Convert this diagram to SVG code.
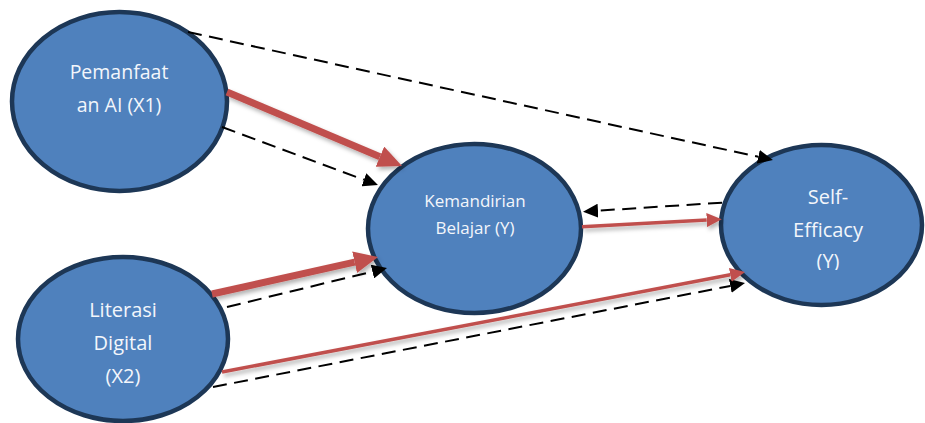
<svg xmlns="http://www.w3.org/2000/svg" width="925" height="423" viewBox="0 0 925 423">
<style>
.node{fill:#4f81bd;stroke:#1d3756;stroke-width:4.5}
.lbl{font-family:"Open Sans","Noto Sans","Liberation Sans",sans-serif;fill:#f3f6fb;text-anchor:middle}
.dash{fill:none;stroke:#000;stroke-width:2;stroke-dasharray:14 7.5;marker-end:url(#arrBlack)}
.redBig{fill:none;stroke:#c0504d;stroke-width:7;marker-end:url(#arrRedBig)}
.red{fill:none;stroke:#c0504d;stroke-width:3.5;marker-end:url(#arrRed)}
</style>
<defs>
<marker id="arrBlack" markerUnits="userSpaceOnUse" viewBox="0 -7 15 14" markerWidth="15" markerHeight="14" refX="0" refY="0" orient="auto"><path d="M0,-7 L15,0 L0,7 z" fill="#000"/></marker>
<marker id="arrRedBig" markerUnits="userSpaceOnUse" viewBox="0 -11 24 22" markerWidth="24" markerHeight="22" refX="0" refY="0" orient="auto"><path d="M0,-11 L24,0 L0,11 z" fill="#c0504d"/></marker>
<marker id="arrRed" markerUnits="userSpaceOnUse" viewBox="0 -7 15 14" markerWidth="15" markerHeight="14" refX="0" refY="0" orient="auto"><path d="M0,-7 L15,0 L0,7 z" fill="#c0504d"/></marker>
<filter id="sh" x="-10%" y="-30%" width="120%" height="160%"><feDropShadow dx="2" dy="3" stdDeviation="2" flood-color="#000" flood-opacity="0.3"/></filter>
<clipPath id="clipSE"><rect x="700" y="140" width="225" height="130"/></clipPath>
</defs>
<g id="node-x1">
<ellipse class="node" cx="119.5" cy="101.5" rx="107.5" ry="89.5"/>
<text class="lbl" x="119" y="79" font-size="19.5">Pemanfaat</text>
<text class="lbl" x="119" y="112" font-size="19.5">an AI (X1)</text>
</g>
<g id="node-y">
<ellipse class="node" cx="474.5" cy="228.5" rx="106.5" ry="84.5"/>
<text class="lbl" x="475" y="207" font-size="17">Kemandirian</text>
<text class="lbl" x="475" y="234" font-size="17">Belajar (Y)</text>
</g>
<g id="node-se">
<ellipse class="node" cx="821.5" cy="225" rx="100.5" ry="80"/>
<g clip-path="url(#clipSE)">
<text class="lbl" x="828" y="204" font-size="20">Self-</text>
<text class="lbl" x="828" y="237" font-size="20">Efficacy</text>
<text class="lbl" x="828" y="268" font-size="20">(Y)</text>
</g>
</g>
<g id="node-x2">
<ellipse class="node" cx="123" cy="339" rx="105" ry="82"/>
<text class="lbl" x="123" y="317" font-size="20">Literasi</text>
<text class="lbl" x="123" y="350" font-size="20">Digital</text>
<text class="lbl" x="123" y="383" font-size="20">(X2)</text>
</g>
<g id="connectors">
<path class="dash" d="M188,32 L758.3,156.8"/>
<path class="dash" d="M222,127 L363.9,179.8"/>
<path class="dash" d="M227,307 L372.4,271.6"/>
<path class="dash" d="M213,387 L730.3,285.9"/>
<path class="dash" d="M722,202.7 L598,210.7"/>
<g filter="url(#sh)">
<path class="redBig" d="M227,92 L379.9,156.7"/>
<path class="redBig" d="M212,294 L354.6,262.2"/>
<path class="red" d="M222,372 L730.3,274.8"/>
<path class="red" d="M582,226.7 L706.7,220.1"/>
</g>
</g>
</svg>
